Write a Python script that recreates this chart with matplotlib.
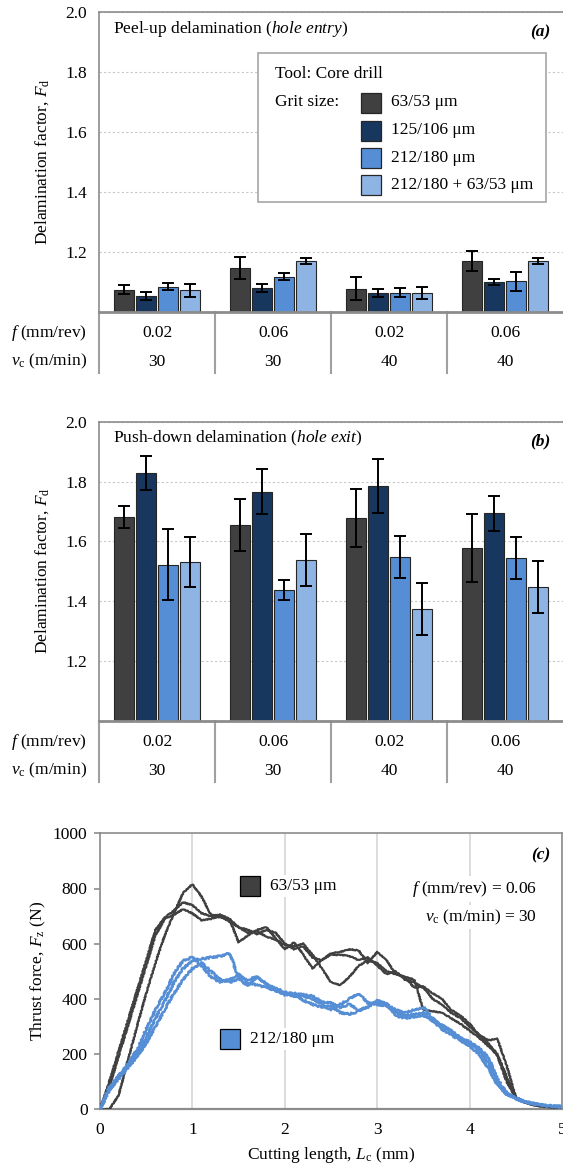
import matplotlib
matplotlib.use("Agg")
import matplotlib.pyplot as plt
from matplotlib.patches import Rectangle
from matplotlib.transforms import blended_transform_factory

plt.rcParams['font.family'] = ['Liberation Serif', 'DejaVu Serif']
plt.rcParams['mathtext.fontset'] = 'custom'
plt.rcParams['mathtext.rm'] = 'Liberation Serif'
plt.rcParams['mathtext.it'] = 'Liberation Serif:italic'
plt.rcParams['mathtext.bf'] = 'Liberation Serif:bold'
plt.rcParams['font.size'] = 12.5

# ---- data -------------------------------------------------------------
grit_sizes = ['63/53 μm', '125/106 μm', '212/180 μm', '212/180 + 63/53 μm']
feed_labels = ['0.02', '0.06', '0.02', '0.06']
speed_labels = ['30', '30', '40', '40']

# (a) peel-up delamination, hole entry: one list per grit size, 4 conditions
entry_mean = [
    [1.074, 1.147, 1.077, 1.170],
    [1.052, 1.079, 1.062, 1.098],
    [1.083, 1.117, 1.064, 1.101],
    [1.072, 1.170, 1.062, 1.169],
]
entry_err = [
    [0.016, 0.037, 0.038, 0.033],
    [0.013, 0.013, 0.014, 0.010],
    [0.012, 0.012, 0.016, 0.031],
    [0.022, 0.011, 0.019, 0.009],
]

# (b) push-down delamination, hole exit
exit_mean = [
    [1.681, 1.656, 1.677, 1.578],
    [1.827, 1.766, 1.785, 1.693],
    [1.522, 1.438, 1.548, 1.545],
    [1.531, 1.537, 1.373, 1.447],
]
exit_err = [
    [0.038, 0.087, 0.097, 0.113],
    [0.057, 0.075, 0.090, 0.057],
    [0.118, 0.033, 0.070, 0.070],
    [0.083, 0.087, 0.087, 0.087],
]

# (c) thrust force vs cutting length, f = 0.06 mm/rev, vc = 30 m/min
cutting_length = [0.0, 0.1, 0.2, 0.3, 0.4, 0.5, 0.6, 0.7, 0.8, 0.9,
                  1.0, 1.1, 1.2, 1.3, 1.4, 1.5, 1.6, 1.7, 1.8, 1.9,
                  2.0, 2.1, 2.2, 2.3, 2.4, 2.5, 2.6, 2.7, 2.8, 2.9,
                  3.0, 3.1, 3.2, 3.3, 3.4, 3.5, 3.6, 3.7, 3.8, 3.9,
                  4.0, 4.1, 4.2, 4.3, 4.4, 4.5, 4.6, 4.7, 4.8, 4.9, 5.0]

force_63_run1 = [0, 0, 50, 175, 300, 420, 530, 630, 710, 785,
                 815, 770, 705, 695, 690, 660, 640, 645, 625, 615,
                 595, 590, 600, 560, 510, 460, 450, 480, 520, 540,
                 530, 500, 490, 480, 470, 360, 355, 350, 330, 310,
                 285, 260, 230, 195, 100, 40, 25, 15, 10, 8, 5]
force_63_run2 = [0, 100, 210, 320, 430, 540, 650, 695, 720, 750,
                 740, 710, 700, 705, 690, 605, 630, 650, 660, 620,
                 580, 605, 560, 510, 540, 565, 570, 580, 575, 530,
                 570, 540, 490, 480, 440, 445, 420, 400, 360, 340,
                 310, 270, 250, 255, 160, 45, 25, 15, 10, 8, 5]
force_63_run3 = [0, 80, 190, 300, 410, 520, 630, 690, 705, 725,
                 710, 685, 690, 700, 680, 660, 650, 635, 650, 640,
                 600, 580, 590, 550, 540, 560, 560, 555, 540, 550,
                 520, 490, 500, 470, 460, 440, 400, 380, 350, 330,
                 300, 270, 240, 200, 120, 40, 25, 15, 10, 8, 5]

force_212_run1 = [0, 80, 120, 165, 215, 290, 360, 420, 490, 540,
                  550, 520, 480, 460, 470, 490, 460, 450, 440, 430,
                  420, 410, 410, 400, 380, 360, 380, 400, 420, 385,
                  380, 375, 350, 340, 345, 350, 320, 290, 270, 250,
                  230, 200, 150, 90, 55, 40, 28, 20, 15, 12, 10]
force_212_run2 = [0, 75, 115, 155, 200, 260, 330, 390, 460, 510,
                  540, 545, 550, 555, 565, 480, 470, 480, 450, 440,
                  425, 420, 415, 410, 390, 385, 370, 380, 360, 370,
                  395, 380, 360, 350, 360, 370, 330, 300, 280, 255,
                  240, 215, 170, 95, 55, 38, 26, 19, 14, 11, 9]
force_212_run3 = [0, 70, 110, 150, 190, 240, 300, 360, 420, 470,
                  510, 530, 500, 470, 460, 470, 450, 480, 455, 430,
                  415, 420, 395, 380, 370, 375, 350, 345, 355, 375,
                  390, 385, 340, 330, 335, 340, 325, 305, 285, 260,
                  245, 225, 190, 110, 60, 40, 27, 19, 14, 11, 9]

bar_colors = ['#404040', '#17375E', '#558ED5', '#8EB4E3']
grey = '#8C8C8C'

# ---- layout helpers (pixel -> figure fraction) -------------------------
W, H = 563, 1166
def fx(px):
    return px / W
def fy(py):
    return 1 - py / H

fig = plt.figure(figsize=(W / 100, H / 100), dpi=100)


def bar_panel(top, bottom, means, errs, title, tag):
    ax = fig.add_axes([fx(99.3), fy(bottom), fx(563) - fx(99.3), fy(top) - fy(bottom)])
    groups = range(len(feed_labels))
    offsets = [-0.285, -0.095, 0.095, 0.285]
    for k in range(len(grit_sizes)):
        xs = [g + offsets[k] for g in groups]
        ax.bar(xs, [m - 1.0 for m in means[k]], bottom=1.0, width=0.172,
               color=bar_colors[k], edgecolor='#262626', linewidth=0.8, zorder=2)
        ax.errorbar(xs, means[k], yerr=errs[k], fmt='none', ecolor='black',
                    elinewidth=1.4, capsize=4.2, capthick=1.4, zorder=3)
    ax.set_xlim(-0.5, 3.5)
    ax.set_ylim(1.0, 2.0)
    ax.set_yticks([1.2, 1.4, 1.6, 1.8, 2.0])
    ax.set_yticklabels(['1.2', '1.4', '1.6', '1.8', '2.0'])
    ax.set_xticks([])
    ax.tick_params(axis='y', length=0, pad=9, labelsize=12.5)
    ax.yaxis.grid(True, linestyle=(0, (2, 2)), color='#C8C8C8', linewidth=0.8)
    ax.set_axisbelow(True)
    ax.spines['right'].set_visible(False)
    for s in ['left', 'top']:
        ax.spines[s].set_color(grey)
        ax.spines[s].set_linewidth(1.2)
    ax.spines['bottom'].set_color(grey)
    ax.spines['bottom'].set_linewidth(2.0)

    # category table under the bars
    h = bottom - top
    tr = blended_transform_factory(ax.transData, ax.transAxes)
    y_f = -(21.3 / h)
    y_v = -(50.0 / h)
    y_end = -(61.5 / h)
    for xb in [-0.5, 0.5, 1.5, 2.5]:
        ax.plot([xb, xb], [0, y_end], transform=tr, color='#A0A0A0',
                linewidth=1.5, clip_on=False)
    for g in groups:
        ax.text(g, y_f, feed_labels[g], transform=tr, ha='center', va='center')
        ax.text(g, y_v, speed_labels[g], transform=tr, ha='center', va='center')
    fig.text(fx(87), fy(bottom + 21.3), r'$f$ (mm/rev)', ha='right', va='center')
    fig.text(fx(87), fy(bottom + 50.0), r'$v_{\rm c}$ (m/min)', ha='right', va='center')

    fig.text(fx(42), fy((top + bottom) / 2), r'Delamination factor, $F_{\rm d}$',
             rotation=90, ha='center', va='center')
    fig.text(fx(113), fy(top + 17), title, ha='left', va='center')
    fig.text(fx(550), fy(top + 20), tag, ha='right', va='center',
             fontweight='bold', fontstyle='italic')
    return ax


ax_a = bar_panel(12.3, 311.7, entry_mean, entry_err,
                 r'Peel-up delamination ($\mathit{hole\ entry}$)', '(a)')
ax_b = bar_panel(421.7, 720.7, exit_mean, exit_err,
                 r'Push-down delamination ($\mathit{hole\ exit}$)', '(b)')

# legend box of panel (a)
fig.add_artist(Rectangle((fx(258), fy(202)), fx(546) - fx(258), fy(53) - fy(202),
                         transform=fig.transFigure, facecolor='white',
                         edgecolor='#A6A6A6', linewidth=1.2, zorder=2))
fig.text(fx(275), fy(74), 'Tool: Core drill', ha='left', va='center', zorder=3)
fig.text(fx(275), fy(102.5), 'Grit size:', ha='left', va='center', zorder=3)
for k, (label, row) in enumerate(zip(grit_sizes, [102.5, 130.5, 157.5, 185])):
    fig.add_artist(Rectangle((fx(361), fy(row + 10)), fx(20), fy(0) - fy(20),
                             transform=fig.transFigure, facecolor=bar_colors[k],
                             edgecolor='#262626', linewidth=0.9, zorder=3))
    fig.text(fx(391), fy(row), label, ha='left', va='center', zorder=3)

# ---- panel (c) ---------------------------------------------------------
ax_c = fig.add_axes([fx(100), fy(1109.3), fx(562) - fx(100), fy(833.3) - fy(1109.3)])
for run in [force_63_run1, force_63_run2, force_63_run3]:
    line, = ax_c.plot(cutting_length, run, color='#404040', linewidth=1.6, zorder=4)
    line.set_sketch_params(0.5, 3.0, 2.0)
for run in [force_212_run1, force_212_run2, force_212_run3]:
    line, = ax_c.plot(cutting_length, run, color='#558ED5', linewidth=1.8, zorder=5)
    line.set_sketch_params(0.9, 1.5, 3.0)
ax_c.set_xlim(0, 5)
ax_c.set_ylim(0, 1000)
ax_c.set_xticks([0, 1, 2, 3, 4, 5])
ax_c.set_yticks([0, 200, 400, 600, 800, 1000])
ax_c.tick_params(axis='x', length=0, pad=9, labelsize=12.5)
ax_c.tick_params(axis='y', length=4, width=1.2, color=grey, pad=5, labelsize=12.5)
ax_c.xaxis.grid(True, color='#D9D9D9', linewidth=1.3)
ax_c.set_axisbelow(True)
for s in ax_c.spines.values():
    s.set_color(grey)
    s.set_linewidth(1.2)
ax_c.spines['bottom'].set_linewidth(1.6)

fig.text(fx(38), fy(971), r'Thrust force, $F_{\rm z}$ (N)', rotation=90,
         ha='center', va='center')
fig.text(fx(331), fy(1155), r'Cutting length, $L_{\rm c}$ (mm)', ha='center', va='center')
fig.text(fx(550), fy(855), '(c)', ha='right', va='center',
         fontweight='bold', fontstyle='italic')

box = dict(facecolor='white', edgecolor='none', pad=2)
fig.add_artist(Rectangle((fx(240), fy(896)), fx(20), fy(0) - fy(20),
                         transform=fig.transFigure, facecolor='#404040',
                         edgecolor='black', linewidth=0.9, zorder=3))
fig.text(fx(270), fy(886), grit_sizes[0], ha='left', va='center', bbox=box, zorder=3)
fig.add_artist(Rectangle((fx(220), fy(1049)), fx(20), fy(0) - fy(20),
                         transform=fig.transFigure, facecolor='#558ED5',
                         edgecolor='black', linewidth=0.9, zorder=3))
fig.text(fx(250), fy(1039), grit_sizes[2], ha='left', va='center', bbox=box, zorder=3)
fig.text(fx(537), fy(889), r'$f$ (mm/rev) = 0.06', ha='right', va='center', bbox=box, zorder=3)
fig.text(fx(537), fy(917), r'$v_{\rm c}$ (m/min) = 30', ha='right', va='center', bbox=box, zorder=3)

fig.savefig('out.png', dpi=100)
